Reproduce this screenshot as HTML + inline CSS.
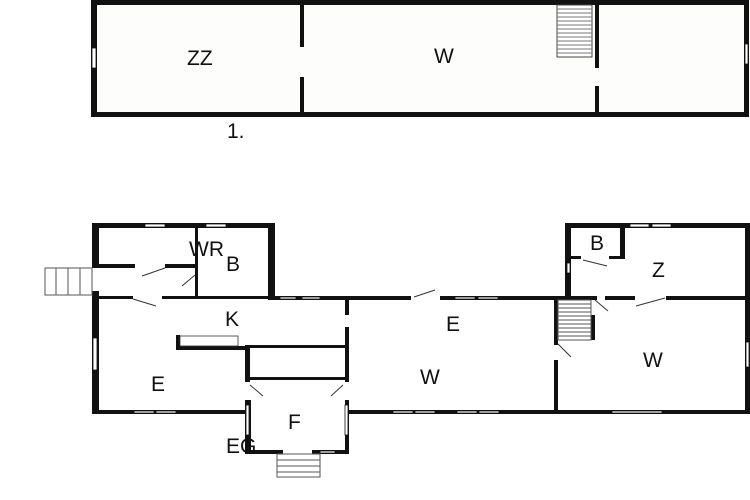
<!DOCTYPE html>
<html><head><style>body{margin:0;background:#fff}svg{display:block}text{font-family:"Liberation Sans",sans-serif;font-size:21px;fill:#111}</style></head>
<body>
<svg width="750" height="500" viewBox="0 0 750 500" xmlns="http://www.w3.org/2000/svg">
<rect width="750" height="500" fill="#fff"/>
<rect x="91" y="0" width="658" height="117" fill="#fdfdfb"/>
<g fill="#111">
<rect x="91" y="0" width="658" height="5"/>
<rect x="91" y="112" width="658" height="5"/>
<rect x="91" y="0" width="6" height="117"/>
<rect x="744" y="0" width="5" height="117"/>
<rect x="300" y="0" width="4" height="47"/>
<rect x="300" y="77" width="4" height="40"/>
<rect x="595" y="0" width="4" height="68"/>
<rect x="595" y="86" width="4" height="31"/>
</g>
<rect x="92" y="48" width="4" height="20" fill="#fff" stroke="#111" stroke-width="0.8"/>
<rect x="745" y="44" width="3" height="20" fill="#fff" stroke="#111" stroke-width="0.8"/>
<g stroke="#777" stroke-width="1"><rect x="557" y="5" width="35" height="52" fill="#fff" stroke="#444"/>
<path d="M557 9H592M557 13H592M557 17H592M557 21H592M557 25H592M557 29H592M557 33H592M557 37H592M557 41H592M557 45H592M557 49H592M557 53H592"/></g>

<g fill="#111">
<rect x="92" y="223" width="183" height="5"/>
<rect x="92" y="223" width="7" height="45"/>
<rect x="92" y="291" width="7" height="123"/>
<rect x="268" y="223" width="7" height="76"/>
<rect x="195" y="228" width="3" height="70"/>
<rect x="99" y="264" width="36" height="4"/>
<rect x="165" y="264" width="30" height="4"/>
<rect x="99" y="296" width="34" height="3"/>
<rect x="162" y="296" width="106" height="3"/>
<rect x="268" y="296" width="143" height="4"/>
<rect x="440" y="296" width="125" height="4"/>
<rect x="565" y="296" width="32" height="4"/>
<rect x="605" y="296" width="30" height="4"/>
<rect x="666" y="296" width="84" height="4"/>
<rect x="565" y="223" width="185" height="5"/>
<rect x="565" y="223" width="6" height="77"/>
<rect x="745" y="223" width="5" height="191"/>
<rect x="620" y="228" width="5" height="31"/>
<rect x="571" y="256" width="10" height="3"/>
<rect x="609" y="256" width="16" height="3"/>
<rect x="345" y="300" width="4" height="15"/>
<rect x="345" y="327" width="4" height="55"/>
<rect x="345" y="400" width="4" height="52"/>
<rect x="554" y="300" width="4" height="45"/>
<rect x="554" y="360" width="4" height="54"/>
<rect x="92" y="410" width="153" height="4"/>
<rect x="349" y="410" width="401" height="4"/>
<rect x="245" y="345" width="5" height="37"/>
<rect x="245" y="400" width="6" height="54"/>
<rect x="245" y="450" width="38" height="4"/>
<rect x="312" y="450" width="37" height="4"/>
<rect x="246" y="345" width="102" height="3"/>
<rect x="246" y="377" width="102" height="3"/>
<rect x="176" y="335" width="4" height="15"/>
<rect x="176" y="346" width="70" height="4"/>
<rect x="590" y="315" width="5" height="25"/>
</g>
<rect x="180" y="336" width="58" height="10" fill="none" stroke="#333" stroke-width="0.8"/>
<g fill="#fff" stroke="#111" stroke-width="0.8">
<rect x="145" y="224" width="20" height="3"/><rect x="206" y="224" width="20" height="3"/>
<rect x="280" y="297" width="16" height="2"/><rect x="302" y="297" width="18" height="2"/>
<rect x="455" y="297" width="20" height="2"/><rect x="478" y="297" width="20" height="2"/>
<rect x="630" y="224" width="19" height="3"/><rect x="652" y="224" width="19" height="3"/>
<rect x="93" y="338" width="4" height="32"/>
<rect x="567" y="263" width="3" height="10"/>
<rect x="746" y="342" width="3" height="25"/>
<rect x="134" y="411" width="20" height="2"/><rect x="156" y="411" width="20" height="2"/>
<rect x="393" y="411" width="20" height="2"/><rect x="415" y="411" width="20" height="2"/>
<rect x="457" y="411" width="20" height="2"/><rect x="479" y="411" width="20" height="2"/>
<rect x="612" y="411" width="50" height="2"/>
<rect x="246" y="405" width="3" height="30"/><rect x="345" y="405" width="3" height="30"/>
<rect x="320" y="451" width="15" height="2"/>
</g>
<g stroke="#333" stroke-width="1">
<path d="M142 276L165 268M182 286L195 275M133 299L156 306M80 278L92 290M414 297L435 290M583 260L607 266M595 300L608 311M636 306L665 298M558 344L571 357M250 385L263 396M343 385L331 396M290 455L315 460"/>
</g>
<g fill="#fff" stroke="#555" stroke-width="1">
<rect x="45" y="268" width="47" height="27"/>
<path d="M56 268V295M68 268V295M80 268V295"/>
<rect x="558" y="300" width="33" height="40"/>
<path d="M558 304H591M558 308H591M558 312H591M558 316H591M558 320H591M558 324H591M558 328H591M558 332H591M558 336H591"/>
<rect x="277" y="454" width="43" height="23"/>
<path d="M277 460H320M277 466H320M277 472H320"/>
</g>
<text x="187" y="65">ZZ</text>
<text x="434" y="63">W</text>
<text x="227" y="138">1.</text>
<text x="189" y="256">WR</text>
<text x="226" y="271">B</text>
<text x="225" y="326">K</text>
<text x="151" y="391">E</text>
<text x="446" y="331">E</text>
<text x="420" y="384">W</text>
<text x="288" y="429">F</text>
<text x="226" y="453">EG</text>
<text x="590" y="250">B</text>
<text x="652" y="277">Z</text>
<text x="643" y="367">W</text>
</svg>
</body></html>
